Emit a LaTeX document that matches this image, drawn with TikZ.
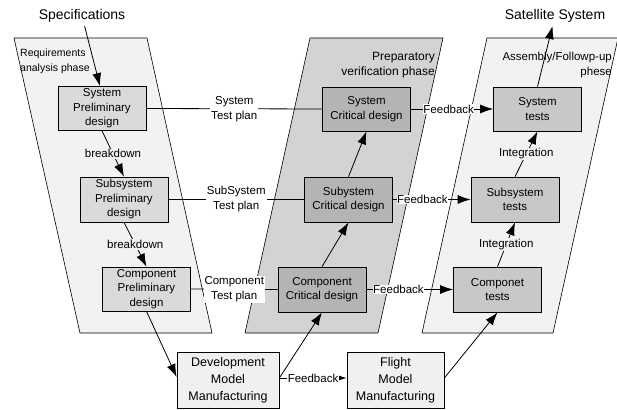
\documentclass[tikz,border=0pt]{standalone}
\usepackage{fontspec}
\setmainfont{Liberation Sans}
\usetikzlibrary{arrows.meta}
\definecolor{phaselight}{HTML}{F2F2F2}
\definecolor{phasedark}{HTML}{D3D3D3}
\definecolor{prelimgray}{HTML}{DADADA}
\definecolor{criticalgray}{HTML}{B4B4B4}
\definecolor{testgray}{HTML}{C8C8C8}
\definecolor{makegray}{HTML}{F0F0F0}

\begin{document}
\begin{tikzpicture}[x=1pt,y=-1pt,
  phase/.style={draw,line width=0.6pt},
  box/.style={draw,line width=0.7pt,align=center,inner sep=0pt,
    minimum width=88pt,minimum height=44pt,font=\fontsize{11.5}{14.5}\selectfont},
  lbl/.style={fill=white,inner sep=1pt,align=center,font=\fontsize{11.5}{15}\selectfont},
  arr/.style={-{Latex[length=13pt,width=9pt]},line width=0.8pt}]
\useasboundingbox (0,0) rectangle (617,409);
\fill[white] (0,0) rectangle (617,409);
\draw[phase,fill=phaselight] (14,38) -- (147,38) -- (212,333) -- (80,333) -- cycle;
\draw[phase,fill=phasedark] (310,38) -- (443,38) -- (378,333) -- (245,333) -- cycle;
\draw[phase,fill=phaselight] (487,38) -- (618,38) -- (553,333) -- (422,333) -- cycle;
\node[anchor=north west,align=left,inner sep=0pt,font=\fontsize{10.5}{15}\selectfont] (req) at (20,48.5) {Requirements\\analysis phase};
\node[anchor=north east,align=right,inner sep=0pt,font=\fontsize{12}{15}\selectfont] (prep) at (435,52) {Preparatory\\verification phase};
\node[anchor=north east,align=right,inner sep=0pt,font=\fontsize{11.5}{15}\selectfont] (asm) at (612,52) {Assembly/Followp-up\\phese};
\node[font=\fontsize{14}{16}\selectfont] (spec) at (82,16) {Specifications};
\node[font=\fontsize{14}{16}\selectfont] (sat) at (555,16) {Satellite System};
\node[box,fill=prelimgray] (sp1) at (102,108.5) {System\\Preliminary\\design};
\node[box,fill=prelimgray,minimum height=45pt] (sp2) at (124,199.5) {Subsystem\\Preliminary\\design};
\node[box,fill=prelimgray] (sp3) at (146.5,289) {Component\\Preliminary\\design};
\node[box,fill=criticalgray] (cd1) at (366.5,109) {System\\Critical design};
\node[box,fill=criticalgray,minimum height=45pt] (cd2) at (348.5,199.5) {Subystem\\Critical design};
\node[box,fill=criticalgray,minimum height=45pt] (cd3) at (322,289.5) {Component\\Critical design};
\node[box,fill=testgray] (ts1) at (537.5,109) {System\\tests};
\node[box,fill=testgray,minimum height=45pt] (ts2) at (515,199.5) {Subsystem\\tests};
\node[box,fill=testgray,minimum height=45pt] (ts3) at (497.5,289.5) {Componet\\tests};
\node[box,fill=makegray,minimum width=102pt,minimum height=56pt,font=\fontsize{12.5}{17}\selectfont] (dev) at (228,380) {Development\\Model\\Manufacturing};
\node[box,fill=makegray,minimum width=97pt,minimum height=56pt,font=\fontsize{12.5}{17}\selectfont] (flt) at (395.5,380) {Flight\\Model\\Manufacturing};
\draw[arr] (spec) -- ([xshift=-2pt]sp1.north);
\draw[arr] (sp1.south) -- node[lbl,fill=phaselight] {breakdown} (sp2.north);
\draw[arr] (sp2.south) -- node[lbl,fill=phaselight] {breakdown} (sp3.north);
\draw[arr] (sp3.south) -- ([yshift=3pt]dev.west);
\draw[line width=0.8pt] (sp1.east) -- node[lbl] {System\\Test plan} (cd1.west);
\draw[line width=0.8pt] (sp2.east) -- node[lbl] {SubSystem\\Test plan} (cd2.west);
\draw[line width=0.8pt] (sp3.east) -- node[lbl] {Component\\Test plan} (cd3.west);
\draw[arr] ([yshift=2pt]dev.east) -- (cd3.south);
\draw[arr] (cd3.north) -- (cd2.south);
\draw[arr] (cd2.north) -- (cd1.south);
\draw[arr] (cd1.east) -- node[lbl,pos=0.46,inner sep=0.5pt] {Feedback} (ts1.west);
\draw[arr] (cd2.east) -- node[lbl,pos=0.38,inner sep=0.5pt] {Feedback} (ts2.west);
\draw[arr] (cd3.east) -- node[lbl,pos=0.37,inner sep=0.5pt] {Feedback} (ts3.west);
\draw[-{Latex[length=9pt,width=6pt]},line width=0.8pt] ([yshift=2pt]dev.east) -- node[lbl,inner sep=0.5pt] {Feedback} ([yshift=2pt]flt.west);
\draw[arr] ([yshift=2pt]flt.east) -- (ts3.south);
\draw[arr] (ts3.north) -- node[lbl,fill=phaselight] {Integration} (ts2.south);
\draw[arr] (ts2.north) -- node[lbl,fill=phaselight] {Integration} (ts1.south);
\draw[arr] (ts1.north) -- (sat);
\end{tikzpicture}
\end{document}
